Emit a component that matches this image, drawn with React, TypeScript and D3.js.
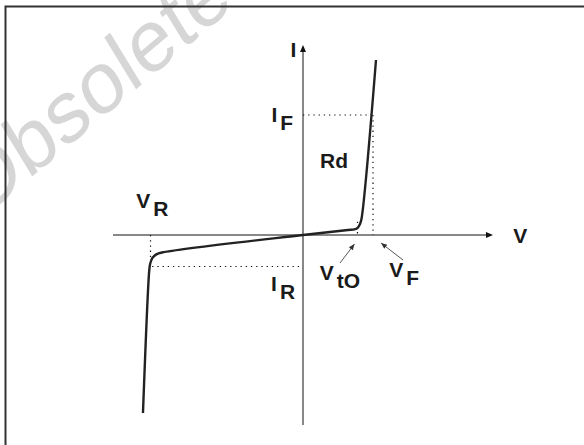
import * as d3 from "d3";
import React, { useEffect } from "react";

// diode I-V characteristic, in arbitrary units (V, I)
const forwardCurve: [number, number][] = [
  [1.921, 4.605],
  [1.539, 0.421],
  [1.5, 0.29],
  [1.44, 0.19],
  [1.35, 0.15],
  [1.184, 0.132],
  [0, 0],
];
const reverseCurve: [number, number][] = [
  [0, 0],
  [-3.711, -0.461],
  [-3.86, -0.51],
  [-3.96, -0.6],
  [-4.02, -0.75],
  [-4.045, -0.92],
  [-4.211, -4.684],
];

const IF = 3.158;
const VF = 1.842;
const Vto = 1.434;
const VtoI = 0.35;
const VR = -4.013;
const VRI = -0.66;
const IR = -0.829;
const IRV = -3.97;

// dotted guides [x1, y1, x2, y2] in data units
const guides: [number, number, number, number][] = [
  [0, IF, VF, IF],
  [VF, IF, VF, 0],
  [Vto, VtoI, Vto, 0],
  [VR, 0, VR, VRI],
  [IRV, IR, 0, IR],
];

// pointer arrows [fromV, fromI, toV, toI]
const pointers: [number, number, number, number][] = [
  [0.974, -0.737, 1.355, -0.237],
  [2.632, -0.658, 2.053, -0.211],
];

// labels: main text, subscript, position (V, I)
const labels: { main: string; sub: string; v: number; i: number }[] = [
  { main: "I", sub: "", v: -0.33, i: 4.684 },
  { main: "I", sub: "F", v: -0.83, i: 2.97 },
  { main: "Rd", sub: "", v: 0.45, i: 1.763 },
  { main: "V", sub: "R", v: -4.39, i: 0.71 },
  { main: "V", sub: "", v: 5.53, i: -0.21 },
  { main: "I", sub: "R", v: -0.84, i: -1.47 },
  { main: "V", sub: "tO", v: 0.44, i: -1.18 },
  { main: "V", sub: "F", v: 2.27, i: -1.097 },
];

const W = 584;
const H = 445;

export default function App() {
  useEffect(() => {
    document.body.style.margin = "0";
  }, []);

  const x = d3.scaleLinear().domain([-5, 5]).range([113, 493]);
  const y = d3.scaleLinear().domain([-5, 5]).range([425, 45]);

  const line = d3
    .line<[number, number]>()
    .x((d) => x(d[0]))
    .y((d) => y(d[1]))
    .curve(d3.curveCatmullRom.alpha(0.5));

  const curvePts = [...forwardCurve, ...reverseCurve.slice(1)];

  const head = (x1: number, y1: number, x2: number, y2: number, len: number, wid: number) => {
    const a = Math.atan2(y2 - y1, x2 - x1);
    const bx = x2 - len * Math.cos(a);
    const by = y2 - len * Math.sin(a);
    const px = -Math.sin(a) * wid;
    const py = Math.cos(a) * wid;
    return `M${x2},${y2}L${bx + px},${by + py}L${bx - px},${by - py}Z`;
  };

  const font = "'Liberation Sans', Arial, sans-serif";

  return (
    <svg width={W} height={H} style={{ display: "block" }}>
      <rect width={W} height={H} fill="#fff" />
      {/* slanted watermark */}
      <text
        x={0}
        y={0}
        transform="matrix(0.766,-0.643,0.522,0.853,-22,222)"
        fontFamily={font}
        fontSize={84}
        fill="#d6d6d6"
      >
        Obsolete
      </text>
      <rect x={5.5} y={6.5} width={700} height={600} fill="none" stroke="#333" strokeWidth={2} />

      {/* axes */}
      <line x1={x(-5)} y1={y(0)} x2={x(5) - 4} y2={y(0)} stroke="#111" strokeWidth={1} />
      <path d={head(x(4), y(0), x(5), y(0), 7, 3)} fill="#111" />
      <line x1={x(0)} y1={y(-5)} x2={x(0)} y2={y(5) + 4} stroke="#111" strokeWidth={1} />
      <path d={head(x(0), y(4), x(0), y(5), 7, 3)} fill="#111" />

      {/* dotted guides */}
      {guides.map((g, k) => (
        <line
          key={k}
          x1={x(g[0])}
          y1={y(g[1])}
          x2={x(g[2])}
          y2={y(g[3])}
          stroke="#111"
          strokeWidth={1.2}
          strokeDasharray="1.3,3.9"
        />
      ))}

      {/* characteristic */}
      <path d={line(curvePts) || ""} fill="none" stroke="#222" strokeWidth={2.4} strokeLinejoin="round" />

      {/* pointers */}
      {pointers.map((p, k) => (
        <g key={k}>
          <line x1={x(p[0])} y1={y(p[1])} x2={x(p[2])} y2={y(p[3])} stroke="#444" strokeWidth={0.9} />
          <path d={head(x(p[0]), y(p[1]), x(p[2]), y(p[3]), 6, 2.5)} fill="#333" />
        </g>
      ))}

      {/* labels */}
      {labels.map((l, k) => (
        <text key={k} x={x(l.v)} y={y(l.i)} fontFamily={font} fontWeight="bold" fontSize={21} fill="#1a1a1a">
          {l.main}
          {l.sub && (
            <tspan dx={3} dy={8}>
              {l.sub}
            </tspan>
          )}
        </text>
      ))}
    </svg>
  );
}
